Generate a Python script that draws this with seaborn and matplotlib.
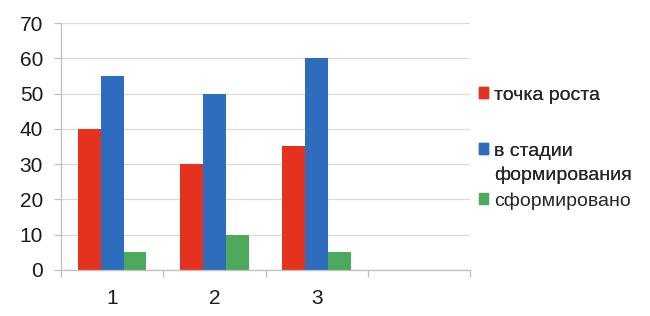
import matplotlib
matplotlib.use("Agg")
import matplotlib.pyplot as plt
import matplotlib.patches as mpatches
import seaborn as sns
import pandas as pd
import numpy as np

categories = ["1", "2", "3", ""]
series = ["точка роста", "в стадии формирования", "сформировано"]
legend_lines = ["точка роста", "в стадии", "формирования", "сформировано"]
vals_growth = [40, 30, 35]
vals_forming = [55, 50, 60]
vals_formed = [5, 10, 5]
colors = ["#E5321F", "#2E6DBE", "#4DAA5C"]

rows = []
for s, vals in zip(series, [vals_growth, vals_forming, vals_formed]):
    for c, v in zip(categories[:3], vals):
        rows.append({"cat": c, "val": v, "series": s})
df = pd.DataFrame(rows)

sns.set_theme(style="white")
plt.rcParams["font.family"] = ["Liberation Sans", "DejaVu Sans"]

fig = plt.figure(figsize=(6.5, 3.16), dpi=100)
ax = fig.add_axes([0.094, 0.146, 0.629, 0.781])

sns.barplot(data=df, x="cat", y="val", hue="series", order=categories,
            hue_order=series, palette=colors, width=0.67, gap=0,
            saturation=1, linewidth=0, ax=ax, legend=False)

ax.set_xlim(-0.5, 3.5)
ax.set_ylim(0, 70)
ax.set_yticks(np.arange(0, 71, 10))
ax.set_xlabel("")
ax.set_ylabel("")
ax.yaxis.grid(True, color="#d9d9d9", linewidth=0.9)
ax.set_axisbelow(True)
for sp in ["top", "right"]:
    ax.spines[sp].set_visible(False)
for sp in ["left", "bottom"]:
    ax.spines[sp].set_color("#bfbfbf")
    ax.spines[sp].set_linewidth(0.9)

ax.set_xticks(range(len(categories)))
ax.set_xticklabels(categories)
ax.set_xticks(np.arange(-0.5, 3.6, 1), minor=True)
ax.tick_params(axis="x", which="major", length=0, pad=14, labelsize=15, labelcolor="#1a1a1a")
ax.tick_params(axis="x", which="minor", length=5, color="#bfbfbf", width=0.9, bottom=True)
ax.tick_params(axis="y", length=5, color="#bfbfbf", width=0.9, labelsize=15,
               labelcolor="#1a1a1a", left=True, pad=8)

handles = [mpatches.Patch(color=colors[0]), mpatches.Patch(color=colors[1]),
           mpatches.Patch(color="none"), mpatches.Patch(color=colors[2])]
ys = [95, 151, 175, 201]
legs = []
for hd, lab, y in zip(handles, legend_lines, ys):
    lg = fig.legend([hd], [lab], loc="center left",
                    bbox_to_anchor=(479 / 650, 1 - y / 316), frameon=False,
                    fontsize=14, handlelength=0.47, handleheight=0.47,
                    handletextpad=0.3, borderaxespad=0, borderpad=0)
    legs.append(lg)
for lg in legs[:-1]:
    fig.add_artist(lg)

fig.savefig("out.png", dpi=100)
